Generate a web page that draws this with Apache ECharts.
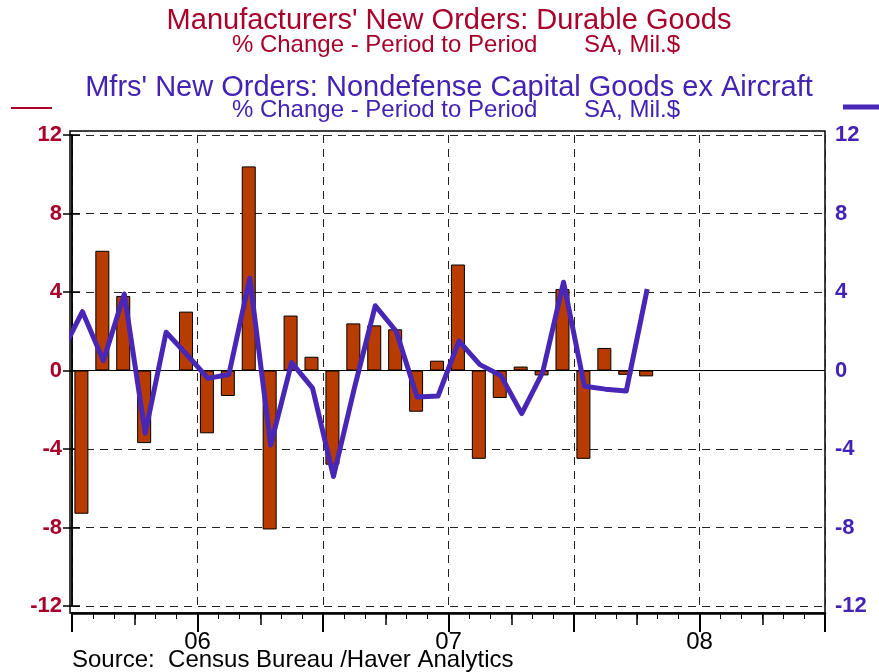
<!DOCTYPE html>
<html>
<head>
<meta charset="utf-8">
<script src="https://cdn.jsdelivr.net/npm/echarts@6/dist/echarts.min.js"></script>
<style>
html,body{margin:0;padding:0;background:#fff;}
#chart{width:879px;height:672px;}
</style>
</head>
<body>
<div id="chart"></div>
<script>
// Months shown with bars (Jul 2005 .. Oct 2007)
const months = ['2005-07','2005-08','2005-09','2005-10','2005-11','2005-12',
  '2006-01','2006-02','2006-03','2006-04','2006-05','2006-06','2006-07','2006-08','2006-09','2006-10','2006-11','2006-12',
  '2007-01','2007-02','2007-03','2007-04','2007-05','2007-06','2007-07','2007-08','2007-09','2007-10'];
// Durable goods new orders, % change (bars)
const durableGoods = [-7.3, 6.1, 3.8, -3.7, 0, 3.0, -3.2, -1.3, 10.4, -8.1, 2.8, 0.7, -4.8, 2.4, 2.3, 2.1, -2.1, 0.5,
  5.4, -4.5, -1.4, 0.2, -0.25, 4.15, -4.5, 1.15, -0.22, -0.3];
// Nondefense capital goods ex aircraft, % change (line); first value is Jun 2005 (clipped at left edge)
const capGoodsPrevMonth = 0.9;
const capGoods = [3.0, 0.5, 3.9, -3.2, 1.95, 0.8, -0.4, -0.2, 4.7, -3.8, 0.4, -0.9, -5.4, -0.9, 3.3, 2.0, -1.35, -1.3,
  1.5, 0.3, -0.25, -2.2, -0.1, 4.5, -0.8, -0.95, -1.05, 4.15];
// Axis: months from Jul 2005 to Jul 2008, labels every 6 months
const axisMonthsTotal = 36;
const xTickLabels = ['', '06', '', '07', '', '08', ''];

const RED = '#A8002A', BLUE = '#4422B4', BAR = '#B83C00', LINE = '#4826B6';
const FONT = '"Liberation Sans", Arial, sans-serif';

const barData = durableGoods.map((v, i) => [i + 0.45, v]);
const lineData = [[-0.5, capGoodsPrevMonth]].concat(capGoods.map((v, i) => [i + 0.5, v]));

const dashed = {show: true, lineStyle: {type: [8, 6], color: '#222', width: 1}};

const chart = echarts.init(document.getElementById('chart'), null, {renderer: 'canvas'});
chart.setOption({
  animation: false,
  backgroundColor: '#fff',
  textStyle: {fontFamily: FONT},
  grid: [
    {left: 72, right: 54, top: 135, bottom: 66},
    {left: 70, right: 54, top: 131, bottom: 59, show: true, borderColor: '#000', borderWidth: 1.5, backgroundColor: 'transparent'}
  ],
  xAxis: [
    {type: 'value', gridIndex: 0, position: 'bottom', min: 0, max: axisMonthsTotal, interval: 6, offset: 7,
      axisLine: {show: true, onZero: false, lineStyle: {color: '#000', width: 2.5}},
      axisTick: {show: true, length: 19, lineStyle: {color: '#000', width: 2}},
      axisLabel: {show: true, margin: 17, fontSize: 24, color: '#000', fontFamily: FONT,
        formatter: v => xTickLabels[Math.round(v / 6)] || ''},
      splitLine: dashed},
    {type: 'value', gridIndex: 0, position: 'bottom', min: 0, max: axisMonthsTotal, interval: 3, offset: 7,
      axisLine: {show: false, onZero: false}, axisTick: {show: true, length: 12, lineStyle: {color: '#000', width: 1.5}},
      axisLabel: {show: false}, splitLine: {show: false}},
    {type: 'value', gridIndex: 0, position: 'bottom', min: 0, max: axisMonthsTotal, interval: 1, offset: 7,
      axisLine: {show: false, onZero: false}, axisTick: {show: true, length: 6, lineStyle: {color: '#000', width: 1}},
      axisLabel: {show: false}, splitLine: {show: false}},
    {type: 'value', gridIndex: 1, show: false, min: 0, max: 1}
  ],
  yAxis: [
    {type: 'value', gridIndex: 0, position: 'left', min: -12, max: 12, interval: 4, offset: 2,
      axisLine: {show: true, lineStyle: {color: '#000', width: 1.5}},
      axisTick: {show: true, length: 9, lineStyle: {color: '#000', width: 1.5}},
      axisLabel: {color: RED, fontSize: 22, fontWeight: 'bold', margin: 8, fontFamily: FONT},
      splitLine: dashed},
    {type: 'value', gridIndex: 0, position: 'right', min: -12, max: 12, interval: 4,
      axisLine: {show: true, lineStyle: {color: '#000', width: 1.5}},
      axisTick: {show: true, length: 8, lineStyle: {color: '#000', width: 1.5}},
      axisLabel: {color: BLUE, fontSize: 22, fontWeight: 'bold', margin: 10, fontFamily: FONT},
      splitLine: {show: false}},
    {type: 'value', gridIndex: 1, show: false, min: 0, max: 1}
  ],
  series: [
    {type: 'bar', name: 'Durable Goods', xAxisIndex: 0, yAxisIndex: 0, data: barData, barWidth: 14,
      itemStyle: {color: BAR, borderColor: '#000', borderWidth: 1},
      markLine: {silent: true, symbol: 'none', label: {show: false},
        lineStyle: {type: 'solid', color: '#000', width: 1.2}, data: [{yAxis: 0}]}},
    {type: 'line', name: 'Capital Goods ex Aircraft', xAxisIndex: 0, yAxisIndex: 1, data: lineData,
      showSymbol: false, symbol: 'none', clip: true,
      lineStyle: {color: LINE, width: 5, join: 'round'}, itemStyle: {color: LINE}, z: 5}
  ],
  graphic: [
    {type: 'text', style: {text: "Manufacturers' New Orders: Durable Goods", x: 449, y: 21, align: 'center', verticalAlign: 'middle',
      font: '29px ' + FONT, fill: RED}},
    {type: 'text', style: {text: '% Change - Period to Period       SA, Mil.$', x: 456, y: 45, align: 'center', verticalAlign: 'middle',
      font: '24px ' + FONT, fill: RED}},
    {type: 'text', style: {text: "Mfrs' New Orders: Nondefense Capital Goods ex Aircraft", x: 449, y: 88, align: 'center', verticalAlign: 'middle',
      font: '29px ' + FONT, fill: BLUE}},
    {type: 'text', style: {text: '% Change - Period to Period       SA, Mil.$', x: 456, y: 110, align: 'center', verticalAlign: 'middle',
      font: '24px ' + FONT, fill: BLUE}},
    {type: 'line', shape: {x1: 11, y1: 108, x2: 52, y2: 108}, style: {stroke: RED, lineWidth: 2}},
    {type: 'line', shape: {x1: 843, y1: 107, x2: 879, y2: 107}, style: {stroke: LINE, lineWidth: 5}},
    {type: 'text', style: {text: 'Source:  Census Bureau /Haver Analytics', x: 72, y: 660, align: 'left', verticalAlign: 'middle',
      font: '24px ' + FONT, fill: '#000'}}
  ]
});
</script>
</body>
</html>
